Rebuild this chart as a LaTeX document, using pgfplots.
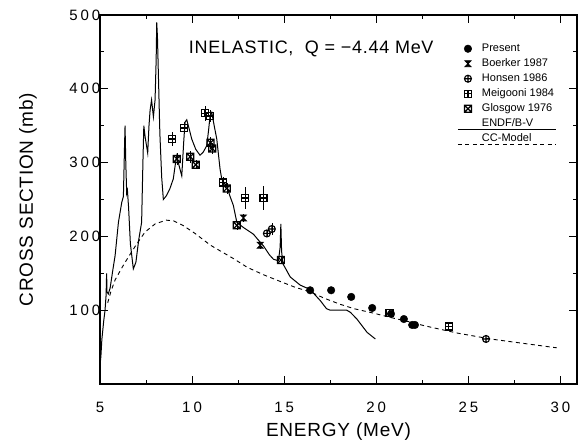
\documentclass[border=0pt]{standalone}
\usepackage{pgfplots}
\pgfplotsset{compat=1.18}
\usepackage{fontspec}
\setmainfont{Liberation Sans}
\newfontfamily\tickfam[LetterSpace=20]{Liberation Sans}
\newfontfamily\labfam[LetterSpace=4]{Liberation Sans}

\pgfdeclareplotmark{hourglass}{%
  \pgfpathmoveto{\pgfqpoint{-\pgfplotmarksize}{\pgfplotmarksize}}%
  \pgfpathlineto{\pgfqpoint{\pgfplotmarksize}{\pgfplotmarksize}}%
  \pgfpathlineto{\pgfqpoint{-\pgfplotmarksize}{-\pgfplotmarksize}}%
  \pgfpathlineto{\pgfqpoint{\pgfplotmarksize}{-\pgfplotmarksize}}%
  \pgfpathclose\pgfusepathqfillstroke}
\pgfdeclareplotmark{squareplus}{%
  \pgfpathrectangle{\pgfqpoint{-\pgfplotmarksize}{-\pgfplotmarksize}}{\pgfqpoint{2\pgfplotmarksize}{2\pgfplotmarksize}}%
  \pgfpathmoveto{\pgfqpoint{0pt}{-\pgfplotmarksize}}\pgfpathlineto{\pgfqpoint{0pt}{\pgfplotmarksize}}%
  \pgfpathmoveto{\pgfqpoint{-\pgfplotmarksize}{0pt}}\pgfpathlineto{\pgfqpoint{\pgfplotmarksize}{0pt}}%
  \pgfusepathqstroke}
\pgfdeclareplotmark{squarex}{%
  \pgfpathrectangle{\pgfqpoint{-\pgfplotmarksize}{-\pgfplotmarksize}}{\pgfqpoint{2\pgfplotmarksize}{2\pgfplotmarksize}}%
  \pgfpathmoveto{\pgfqpoint{-\pgfplotmarksize}{-\pgfplotmarksize}}\pgfpathlineto{\pgfqpoint{\pgfplotmarksize}{\pgfplotmarksize}}%
  \pgfpathmoveto{\pgfqpoint{-\pgfplotmarksize}{\pgfplotmarksize}}\pgfpathlineto{\pgfqpoint{\pgfplotmarksize}{-\pgfplotmarksize}}%
  \pgfusepathqstroke}

\pgfplotsset{
  mylegmark/.style={legend image code/.code={\pgfpathrectangle{\pgfpoint{-4bp}{-4bp}}{\pgfpoint{8bp}{8bp}}\pgfusepath{use as bounding box}\draw[##1] plot coordinates {(0bp,0bp)};}},
  myleglinee/.style={legend image code/.code={\pgfpathrectangle{\pgfpoint{-4bp}{-4bp}}{\pgfpoint{8bp}{8bp}}\pgfusepath{use as bounding box}\draw[##1] (-10bp,-6bp) -- (88bp,-6bp);}},
}

\pgfplotstableread{
x y e
8.93 332 10
9.57 347 8
10.7 367 10
10.98 363 8
11.67 273 8
12.88 252 15
13.88 252 16
20.72 96 0
23.93 78 0
}\meig
\pgfplotstableread{
x y e
9.17 305 8
9.9 308 8
10.2 297 6
11.0 327 8
11.1 319 8
11.88 265 8
12.43 215 6
14.82 168 6
}\glas
\pgfplotstableread{
x y e
14.06 204 5
14.33 210 8
25.96 61 0
}\hans
\pgfplotstableread{
x y e
12.79 225 5
13.7 188 5
}\boer
\pgfplotstableread{
x y
16.41 127
17.55 127
18.64 118
19.78 103
20.8 95
21.5 88
21.95 80
22.1 80
}\pres
\pgfplotstableread{
x y
5.02 30
5.05 38
5.10 60
5.20 85
5.27 99
5.33 120
5.36 150
5.38 125
5.45 122
5.55 130
5.70 155
5.82 174
6.00 219
6.18 246
6.27 254
6.33 320
6.36 350
6.40 300
6.45 258
6.49 262
6.55 240
6.65 190
6.81 156
6.95 165
7.10 195
7.26 219
7.33 300
7.38 350
7.45 335
7.59 313
7.66 350
7.72 371
7.80 385
7.90 362
7.99 385
8.05 440
8.08 490
8.12 470
8.17 420
8.25 340
8.35 280
8.44 250
8.6 255
8.8 265
8.98 278
9.08 296
9.17 309
9.25 300
9.44 282
9.55 330
9.62 355
9.71 358
9.85 345
9.98 332
10.2 318
10.43 310
10.6 314
10.8 323
10.9 345
10.98 364
11.07 368
11.2 350
11.34 332
11.52 291
11.61 278
11.75 272
11.88 269
12.05 255
12.24 242
12.43 219
12.79 212
13.33 203
13.6 195
13.88 187
14.2 175
14.42 169
14.69 167
14.78 185
14.82 217
14.86 180
14.93 163
15.33 145
15.87 134
16.41 128
16.96 113
17.3 102
17.5 100
18.4 100
18.6 97
18.95 88
19.5 70
19.95 61
}\endf
\pgfplotstableread{
x y
5.42 110
5.6 126
5.82 141
6.2 158
6.54 172
7.0 190
7.45 206
8.0 217
8.6 222
9.0 221
9.5 215
10.16 204
11.0 188
12.24 170
13.0 158
13.88 148
14.78 139
15.6 131
16.4 125
17.2 116
18.04 108
18.8 102
19.85 96
20.8 90
21.67 85
22.6 79
23.5 74
24.4 69
25.3 65
26.2 61
27.1 58
28.0 55
28.9 52
29.8 49
}\ccm

\begin{document}
\begin{tikzpicture}
\begin{axis}[
  scale only axis, width=477bp, height=369bp,
  xmin=5, xmax=30.9, ymin=0, ymax=500,
  xtick={5,10,...,30}, ytick={100,200,...,500},
  minor x tick num=1, minor y tick num=1,
  tick align=inside,
  major tick length=8bp, minor tick length=4bp,
  axis line style={line width=1.3bp},
  every tick/.style={black, line width=0.9bp},
  /pgf/number format/assume math mode=true,
  tick label style={font=\tickfam\fontsize{15bp}{18bp}\selectfont},
  xticklabel style={anchor=north, inner sep=0pt, yshift=-18bp},
  yticklabel style={anchor=east, inner sep=0pt, xshift=0.5bp},
  xlabel={ENERGY (MeV)}, ylabel={CROSS SECTION (mb)},
  label style={font=\labfam\fontsize{19bp}{22bp}\selectfont},
  xlabel style={at={(axis description cs:0.5,-0.1436)}, anchor=base},
  ylabel style={at={(axis description cs:-0.1405,0.5)}, anchor=base},
  legend style={at={(0.7626,0.924)}, anchor=north west, draw=none, fill=none,
    inner sep=0pt, row sep=4bp, font=\fontsize{11bp}{13bp}\selectfont,
    nodes={inner sep=0pt, text height=8bp, text depth=3bp},
    /tikz/every odd column/.style={column sep=10bp}},
  legend cell align=left,
]
\addplot[black, line width=1bp, forget plot] table[x=x,y=y] {\endf};
\addplot[black, line width=0.9bp, dash pattern=on 4bp off 3.5bp, forget plot] table[x=x,y=y] {\ccm};

\addplot[black, only marks, mark=*, mark size=3.8bp, mylegmark] table[x=x,y=y] {\pres};
\addlegendentry{Present}
\addplot[black, only marks, mark=hourglass, mark size=3bp, line width=0.8bp, mylegmark,
  error bars/.cd, y dir=both, y explicit, error mark=none] table[x=x,y=y,y error=e] {\boer};
\addlegendentry{Boerker 1987}
\addplot[black, only marks, mark=oplus, mark size=3.5bp, line width=1.1bp, mylegmark,
  error bars/.cd, y dir=both, y explicit, error mark=none] table[x=x,y=y,y error=e] {\hans};
\addlegendentry{Honsen 1986}
\addplot[black, only marks, mark=squareplus, mark size=3.5bp, line width=1.2bp, mylegmark,
  error bars/.cd, y dir=both, y explicit, error mark=none] table[x=x,y=y,y error=e] {\meig};
\addlegendentry{Meigooni 1984}
\addplot[black, only marks, mark=squarex, mark size=3.5bp, line width=1.2bp, mylegmark,
  error bars/.cd, y dir=both, y explicit, error mark=none] table[x=x,y=y,y error=e] {\glas};
\addlegendentry{Glosgow 1976}
\addlegendimage{black, line width=1bp, myleglinee}
\addlegendentry{ENDF/B-V}
\addlegendimage{black, line width=0.9bp, dash pattern=on 4bp off 3.5bp, myleglinee}
\addlegendentry{CC-Model}

\node[font=\labfam\fontsize{18bp}{21bp}\selectfont] at (axis cs:16.47,454) {INELASTIC,\ \ Q = −4.44 MeV};
\end{axis}
\pgfresetboundingbox
\path[use as bounding box] ([xshift=-100bp,yshift=-57bp]current axis.south west) rectangle ([xshift=1bp,yshift=15bp]current axis.north east);
\end{tikzpicture}
\end{document}
